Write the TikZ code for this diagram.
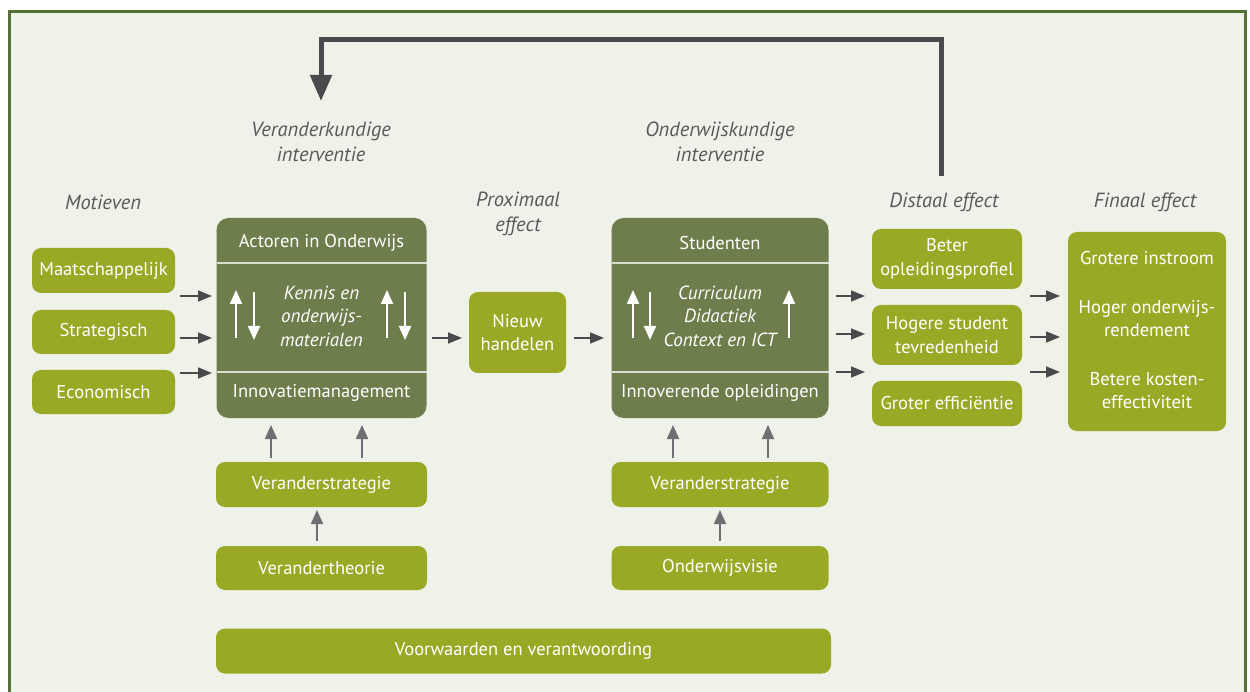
\documentclass[tikz,border=0pt]{standalone}
\usepackage{fontspec}
\setmainfont{PT Sans}
\usetikzlibrary{arrows.meta}
\definecolor{bg}{HTML}{EFF2E8}
\definecolor{framec}{HTML}{57703A}
\definecolor{olive}{HTML}{99A925}
\definecolor{darkg}{HTML}{6D7D4B}
\definecolor{arr}{HTML}{4A4A4C}
\definecolor{arrlight}{HTML}{6E6F71}
\definecolor{lbl}{HTML}{58595B}
\newcommand{\fs}{\fontsize{18.5}{23.5}\selectfont}
\newcommand{\fsi}{\fontsize{19}{23.5}\selectfont\itshape}
\newcommand{\fsl}{\fontsize{20.5}{25}\selectfont\itshape}
\tikzset{
  lightbox/.style={fill=olive, rounded corners=9pt, text=white, align=center, inner sep=0pt, font=\fs},
  darkbox/.style={fill=darkg, rounded corners=12pt, inner sep=0pt},
  intext/.style={text=white, align=center, font=\fs, inner sep=0pt},
  lab/.style={text=lbl, align=center, font=\fsl, inner sep=0pt},
  sarrow/.style={draw=arr, line width=1.6pt, -{Triangle[length=14pt,width=11pt]}},
  uarrow/.style={draw=arrlight, line width=1.8pt, -{Triangle[length=14pt,width=12pt]}},
  warrow/.style={draw=white, line width=2pt, -{Triangle[length=14pt,width=12pt]}},
  divider/.style={draw=white!75!darkg, line width=1.6pt},
}
\begin{document}
\begin{tikzpicture}[x=1pt,y=-1pt]
\useasboundingbox (0,0) rectangle (1250,692);
% frame
\fill[bg] (9,12) rectangle (1245,700);
\draw[framec, line width=3pt] (9,700) -- (9,12) -- (1245,12) -- (1245,700);

% labels
\node[lab] (lmot) at (103,202) {Motieven};
\node[lab] (lver) at (321,142) {Veranderkundige\\interventie};
\node[lab] (lprox) at (518,214) {Proximaal\\effect};
\node[lab] (lond) at (720,142) {Onderwijskundige\\interventie};
\node[lab] (ldis) at (944,202) {Distaal effect};
\node[lab] (lfin) at (1145,202) {Finaal effect};

% motives
\node[lightbox, minimum width=143pt, minimum height=45pt] (m1) at (103.5,270.5) {Maatschappelijk};
\node[lightbox, minimum width=143pt, minimum height=44pt] (m2) at (103.5,332) {Strategisch};
\node[lightbox, minimum width=143pt, minimum height=44pt] (m3) at (103.5,392) {Economisch};

% big box 1
\node[darkbox, minimum width=210pt, minimum height=200pt] (b1) at (321.5,318) {};
\draw[divider] (216.5,263) -- (426.5,263);
\draw[divider] (216.5,372) -- (426.5,372);
\node[intext] (b1top) at (321.5,243) {Actoren in Onderwijs};
\node[intext] (b1bot) at (321.5,393) {Innovatiemanagement};
\node[intext, font=\fsi] (b1mid) at (321.5,316) {Kennis en\\onderwijs-\\materialen};
\coordinate (w1a) at (236,338); \coordinate (w1b) at (236,290);
\coordinate (w2a) at (254,292); \coordinate (w2b) at (254,340);
\coordinate (w3a) at (387,338); \coordinate (w3b) at (387,290);
\coordinate (w4a) at (405,292); \coordinate (w4b) at (405,340);
\draw[warrow] (w1a) -- (w1b);
\draw[warrow] (w2a) -- (w2b);
\draw[warrow] (w3a) -- (w3b);
\draw[warrow] (w4a) -- (w4b);

% arrows motives -> box1
\coordinate (s1) at (180,296); \coordinate (e1) at (212,296);
\coordinate (s2) at (180,338); \coordinate (e2) at (212,338);
\coordinate (s3) at (180,373); \coordinate (e3) at (212,373);
\draw[sarrow] (s1) -- (e1);
\draw[sarrow] (s2) -- (e2);
\draw[sarrow] (s3) -- (e3);

% nieuw handelen
\node[lightbox, minimum width=97pt, minimum height=81pt] (nh) at (517.5,332.5) {Nieuw\\handelen};
\coordinate (s4) at (432,338); \coordinate (e4) at (462,338);
\coordinate (s5) at (574,338); \coordinate (e5) at (604,338);
\draw[sarrow] (s4) -- (e4);
\draw[sarrow] (s5) -- (e5);

% big box 2
\node[darkbox, minimum width=217pt, minimum height=200pt] (b2) at (720,318) {};
\draw[divider] (611.5,263) -- (828.5,263);
\draw[divider] (611.5,372) -- (828.5,372);
\node[intext] (b2top) at (720,243) {Studenten};
\node[intext] (b2bot) at (720,393) {Innoverende opleidingen};
\node[intext, font=\fsi] (b2mid) at (720,316) {Curriculum\\Didactiek\\Context en ICT};
\coordinate (w5a) at (633,338); \coordinate (w5b) at (633,290);
\coordinate (w6a) at (650,292); \coordinate (w6b) at (650,340);
\coordinate (w7a) at (789,338); \coordinate (w7b) at (789,290);
\draw[warrow] (w5a) -- (w5b);
\draw[warrow] (w6a) -- (w6b);
\draw[warrow] (w7a) -- (w7b);

% arrows box2 -> distal
\coordinate (s6) at (836,296); \coordinate (e6) at (865,296);
\coordinate (s7) at (836,334); \coordinate (e7) at (865,334);
\coordinate (s8) at (836,372); \coordinate (e8) at (865,372);
\draw[sarrow] (s6) -- (e6);
\draw[sarrow] (s7) -- (e7);
\draw[sarrow] (s8) -- (e8);

% distal boxes
\node[lightbox, minimum width=150pt, minimum height=60pt] (d1) at (947,259) {Beter\\opleidingsprofiel};
\node[lightbox, minimum width=150pt, minimum height=60pt] (d2) at (947,335) {Hogere student\\tevredenheid};
\node[lightbox, minimum width=150pt, minimum height=45pt] (d3) at (947,403.5) {Groter efficiëntie};

% arrows distal -> final
\coordinate (s9) at (1030,296); \coordinate (e9) at (1060,296);
\coordinate (s10) at (1030,337); \coordinate (e10) at (1060,337);
\coordinate (s11) at (1030,372); \coordinate (e11) at (1060,372);
\draw[sarrow] (s9) -- (e9);
\draw[sarrow] (s10) -- (e10);
\draw[sarrow] (s11) -- (e11);

% final box
\node[lightbox, minimum width=158pt, minimum height=199pt] (fin) at (1147,331.5) {};
\node[intext] (f1) at (1147,258) {Grotere instroom};
\node[intext] (f2) at (1147,318.5) {Hoger onderwijs-\\rendement};
\node[intext] (f3) at (1147,390.5) {Betere kosten-\\effectiviteit};

% below box 1
\node[lightbox, minimum width=211pt, minimum height=45pt] (vs1) at (321.5,484.5) {Veranderstrategie};
\node[lightbox, minimum width=211pt, minimum height=44pt] (vt) at (321.5,568) {Verandertheorie};
\coordinate (u1a) at (271,458); \coordinate (u1b) at (271,425);
\coordinate (u2a) at (362,458); \coordinate (u2b) at (362,425);
\coordinate (u3a) at (317,541); \coordinate (u3b) at (317,510);
\draw[uarrow] (u1a) -- (u1b);
\draw[uarrow] (u2a) -- (u2b);
\draw[uarrow] (u3a) -- (u3b);

% below box 2
\node[lightbox, minimum width=217pt, minimum height=45pt] (vs2) at (720,484.5) {Veranderstrategie};
\node[lightbox, minimum width=217pt, minimum height=44pt] (ov) at (720,568) {Onderwijsvisie};
\coordinate (u4a) at (673,458); \coordinate (u4b) at (673,425);
\coordinate (u5a) at (768,458); \coordinate (u5b) at (768,425);
\coordinate (u6a) at (720,541); \coordinate (u6b) at (720,510);
\draw[uarrow] (u4a) -- (u4b);
\draw[uarrow] (u5a) -- (u5b);
\draw[uarrow] (u6a) -- (u6b);

% bottom bar
\node[lightbox, minimum width=615pt, minimum height=45pt] (vw) at (523.5,651) {Voorwaarden en verantwoording};

% feedback arrow
\coordinate (fbs) at (941,176);
\coordinate (fbe) at (321,101);
\coordinate (fbc1) at (941,40);
\coordinate (fbc2) at (321,40);
\draw[arr, line width=5pt, miter limit=10, -{Triangle[length=26pt,width=21pt]}] (fbs) -- (fbc1) -- (fbc2) -- (fbe);
\end{tikzpicture}
\end{document}
